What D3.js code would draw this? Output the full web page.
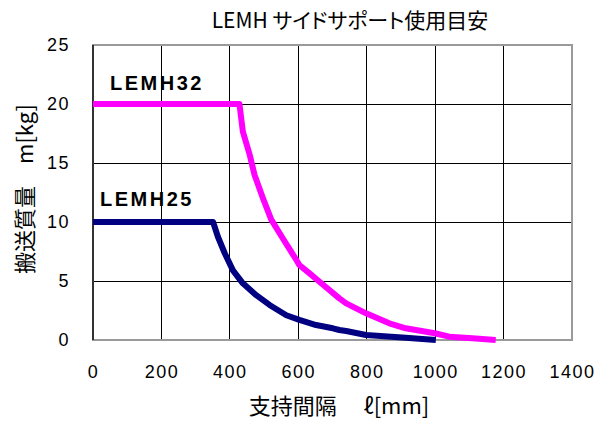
<!DOCTYPE html>
<html><head><meta charset="utf-8">
<script src="https://cdn.jsdelivr.net/npm/d3@7/dist/d3.min.js"></script>
<style>body{margin:0;background:#fff}svg{display:block}</style>
</head><body>
<svg id="c" width="597" height="421"></svg>
<script>
const xTicks = [0,200,400,600,800,1000,1200,1400];
const yTicks = [0,5,10,15,20,25];
const lemh32X = [0,428,438,458,472,497,521,555,594,603,633,662,720,740,798,866,914,999,1041,1109,1177];
const lemh32Y = [20,20,17.65,15.7,14.0,12.0,10.2,8.6,6.8,6.36,5.65,4.94,3.53,3.1,2.26,1.41,0.99,0.57,0.28,0.14,0];
const lemh25X = [0,351,365,385,409,438,477,516,565,603,652,701,720,740,798,914,1002];
const lemh25Y = [10,10,8.75,7.35,5.9,4.8,3.8,2.97,2.1,1.7,1.27,0.99,0.85,0.76,0.42,0.2,0];
const seriesNames = ["LEMH32","LEMH25"];
const title = "LEMH サイドサポート使用目安";
const xTitle = "支持間隔　 ℓ[mm]";
const yTitle = "搬送質量　m[kg]";

const svg = d3.select("#c");
const L=93, R=572, T=45, B=340;
const x = d3.scaleLinear().domain([0,1400]).range([L,R]);
const y = d3.scaleLinear().domain([0,25]).range([B,T]);
const font = "'Liberation Sans', Arial, sans-serif";
const jfont = "'Noto Sans CJK JP', sans-serif";

// grid
svg.append("g").selectAll("line").data(xTicks.slice(1,-1)).join("line")
  .attr("x1",d=>x(d)).attr("x2",d=>x(d)).attr("y1",T).attr("y2",B)
  .attr("stroke","#000").attr("stroke-width",1).attr("shape-rendering","crispEdges");
svg.append("g").selectAll("line").data(yTicks.slice(1,-1)).join("line")
  .attr("y1",d=>y(d)).attr("y2",d=>y(d)).attr("x1",L).attr("x2",R)
  .attr("stroke","#000").attr("stroke-width",1).attr("shape-rendering","crispEdges");
// border
svg.append("rect").attr("x",L).attr("y",T).attr("width",R-L).attr("height",B-T)
  .attr("fill","none").attr("stroke","#9a9a9a").attr("stroke-width",1.5).attr("shape-rendering","crispEdges");
svg.append("line").attr("x1",L).attr("x2",L).attr("y1",T).attr("y2",B)
  .attr("stroke","#333").attr("stroke-width",1.5).attr("shape-rendering","crispEdges");

// axis tick labels
const xAxis = svg.append("g").attr("transform",`translate(0,${B})`)
  .call(d3.axisBottom(x).tickValues(xTicks).tickSize(0).tickPadding(25).tickFormat(d3.format("d")));
xAxis.select(".domain").remove();
xAxis.selectAll("text").attr("font-family",font).attr("font-size",18).attr("letter-spacing",1.5).attr("fill","#000");
const yAxis = svg.append("g").attr("transform",`translate(${L},0)`)
  .call(d3.axisLeft(y).tickValues(yTicks).tickSize(0).tickPadding(23).tickFormat(d3.format("d")));
yAxis.select(".domain").remove();
yAxis.selectAll("text").attr("font-family",font).attr("font-size",18).attr("letter-spacing",1.5).attr("fill","#000");

// lines
const line = d3.line().x(d=>x(d[0])).y(d=>y(d[1]));
const d32 = lemh32X.map((v,i)=>[v,lemh32Y[i]]);
const d25 = lemh25X.map((v,i)=>[v,lemh25Y[i]]);
svg.append("path").datum(d32).attr("d",line).attr("fill","none")
  .attr("stroke","#ff00ff").attr("stroke-width",6).attr("stroke-linejoin","round");
svg.append("path").datum(d25).attr("d",line).attr("fill","none")
  .attr("stroke","#000080").attr("stroke-width",6).attr("stroke-linejoin","round");

// series labels
svg.append("text").attr("x",110).attr("y",90).text(seriesNames[0])
  .attr("font-family",font).attr("font-weight","bold").attr("font-size",20).attr("letter-spacing",2.5);
svg.append("text").attr("x",100).attr("y",206).text(seriesNames[1])
  .attr("font-family",font).attr("font-weight","bold").attr("font-size",20).attr("letter-spacing",2.5);

// titles
svg.append("text").attr("x",350).attr("y",28).attr("text-anchor","middle").text(title)
  .attr("font-family",jfont).attr("font-size",21).attr("fill","#000")
  .style("font-feature-settings","'palt' 1");
svg.append("text").attr("x",339).attr("y",414).attr("text-anchor","middle").text(xTitle)
  .attr("font-family",jfont).attr("font-size",22).attr("fill","#000");
svg.append("text").attr("transform","translate(33,189) rotate(-90)").attr("text-anchor","middle").text(yTitle)
  .attr("font-family",jfont).attr("font-size",22).attr("fill","#000");
</script>
</body></html>
